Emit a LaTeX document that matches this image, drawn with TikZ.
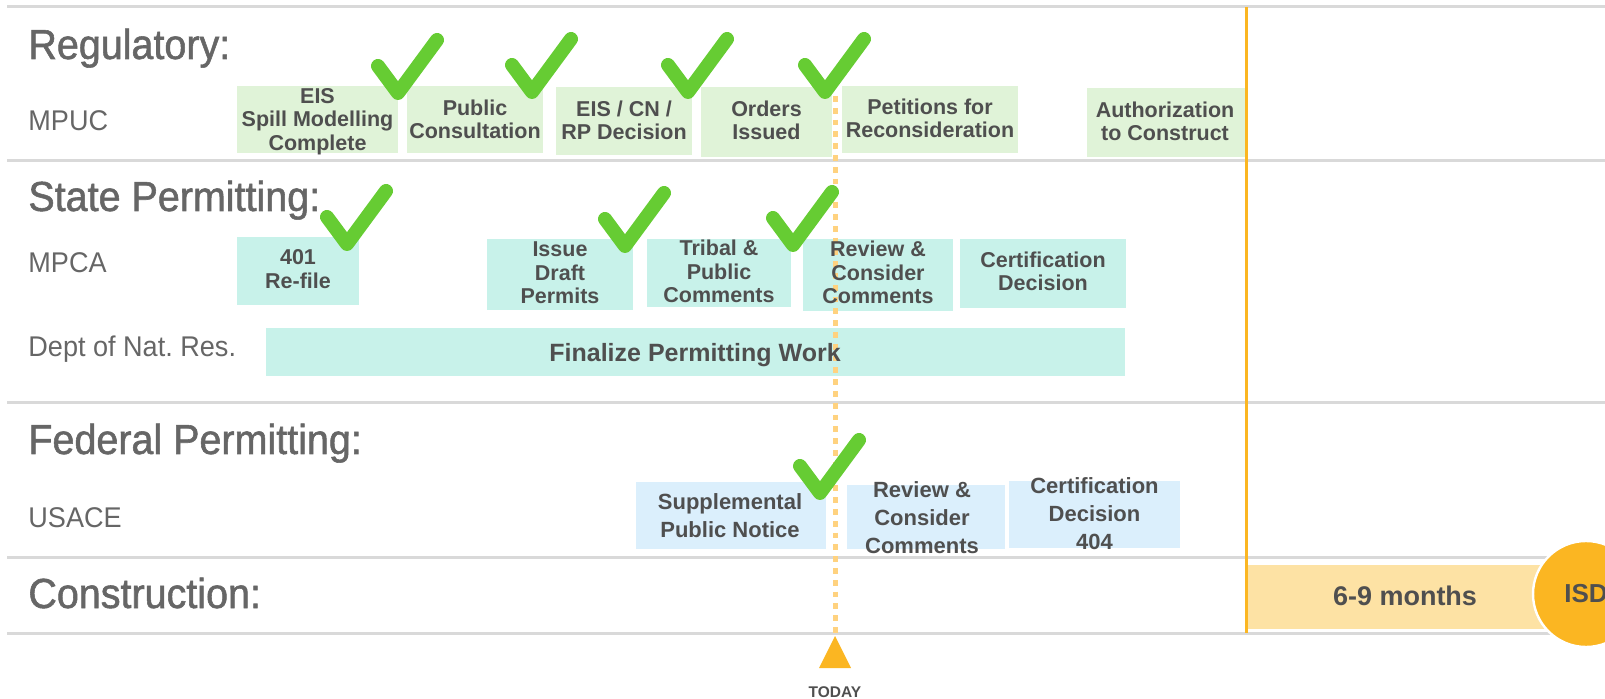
\documentclass[tikz,border=0pt]{standalone}
\usepackage{fontspec}
\setmainfont{Liberation Sans}
\newfontfamily\headfont[FakeBold=1.3,FakeStretch=0.94]{Liberation Sans}
\newfontfamily\labelfont[FakeStretch=0.95]{Liberation Sans}
\usetikzlibrary{fit}
\frenchspacing
\definecolor{rulegray}{HTML}{D9D9D9}
\definecolor{regfill}{HTML}{E0F3D8}
\definecolor{statefill}{HTML}{C8F2EA}
\definecolor{fedfill}{HTML}{DBEFFC}
\definecolor{consfill}{HTML}{FDE2A4}
\definecolor{gold}{HTML}{FBB622}
\definecolor{todaydot}{HTML}{FFD27F}
\definecolor{tickgreen}{HTML}{66CC33}
\definecolor{txt}{HTML}{4F4F4F}
\definecolor{lbl}{HTML}{666666}
\begin{document}
\begin{tikzpicture}[x=0.5pt,y=-0.5pt,
  rule/.style={draw=rulegray,line width=1.5pt},
  box/.style={inner sep=0pt,outer sep=0pt,draw=none},
  regbox/.style={box,fill=regfill},
  statebox/.style={box,fill=statefill},
  fedbox/.style={box,fill=fedfill},
  consbox/.style={box,fill=consfill},
  boxtext/.style={font=\fontsize{10.75pt}{11.75pt}\selectfont\bfseries, text=txt, align=center, inner sep=0pt, text depth=0pt},
  fedtext/.style={boxtext, font=\fontsize{11pt}{14pt}\selectfont\bfseries},
  header/.style={font=\headfont\fontsize{21pt}{24pt}\selectfont, text=lbl, anchor=base west, inner sep=0pt},
  rowlabel/.style={font=\labelfont\fontsize{14.25pt}{16pt}\selectfont, text=lbl, anchor=base west, inner sep=0pt},
  checkmark/.style={draw=tickgreen, line width=7pt, line cap=round, line join=round},
  todayline/.style={draw=todaydot, line width=2.5pt, dash pattern=on 2.9pt off 3pt},
  goldline/.style={draw=gold, line width=1.5pt},
  pics/tick/.style={code={\draw[checkmark] (-20,-27) -- (0,0) -- (39,-53);}}
]
\useasboundingbox (0,0) rectangle (1605,699);
\clip (0,0) rectangle (1605,699);

% horizontal rules
\foreach \yy in {7,161,403,557,633} {\draw[rule] (7,\yy) -- (1605,\yy);}

% regulatory boxes
\node[regbox, fit={(237,86) (398,153)}] (eis) {};
\node[regbox, fit={(407,86) (543,153)}] (pub) {};
\node[regbox, fit={(556,87) (692,155)}] (eiscn) {};
\node[regbox, fit={(701,87) (832,157)}] (ord) {};
\node[regbox, fit={(842,86) (1018,153)}] (pet) {};
\node[regbox, fit={(1087,88) (1245,157)}] (auth) {};

% state boxes
\node[statebox, fit={(237,237) (359,305)}] (refile) {};
\node[statebox, fit={(487,239) (633,310)}] (issue) {};
\node[statebox, fit={(647,239) (791,307)}] (tribal) {};
\node[statebox, fit={(803,239) (953,311)}] (review) {};
\node[statebox, fit={(960,239) (1126,308)}] (cert) {};
\node[statebox, fit={(266,328) (1125,376)}] (final) {};

% federal boxes
\node[fedbox, fit={(636,482) (826,549)}] (supp) {};
\node[fedbox, fit={(847,485) (1005,549)}] (freview) {};
\node[fedbox, fit={(1009,481) (1180,548)}] (fcert) {};

% construction bar
\node[consbox, fit={(1245,565) (1565,629)}] (cons) {};

% vertical gold line
\coordinate (gtop) at (1246,7);
\coordinate (gbot) at (1246,633);
\draw[goldline] (gtop) -- (gbot);

% today line
\coordinate (todaystart) at (835,96);
\coordinate (tri) at (835,636);
\draw[todayline] (todaystart) -- (tri);
\fill[gold] (tri) -- (851,668) -- (819,668) -- cycle;
\node[font=\fontsize{7.75pt}{9pt}\selectfont\bfseries, text=txt, anchor=base, inner sep=0pt] (today) at (835,697) {TODAY};

% headers and row labels
\node[header] (hreg) at (28,59) {Regulatory:};
\node[rowlabel] (lmpuc) at (28,131) {MPUC};
\node[header] (hstate) at (28,211) {State Permitting:};
\node[rowlabel] (lmpca) at (28,273) {MPCA};
\node[rowlabel] (ldnr) at (28,357) {Dept of Nat. Res.};
\node[header] (hfed) at (28,454) {Federal Permitting:};
\node[rowlabel] (lusace) at (28,528) {USACE};
\node[header] (hcons) at (28,608) {Construction:};

% box texts
\node[boxtext] (teis) at (317.5,119) {EIS\\Spill Modelling\\Complete};
\node[boxtext] (tpub) at (475,119) {Public\\Consultation};
\node[boxtext] (teiscn) at (624,120) {EIS / CN /\\RP Decision};
\node[boxtext] (tord) at (766.5,120) {Orders\\Issued};
\node[boxtext] (tpet) at (930,118) {Petitions for\\Reconsideration};
\node[boxtext] (tauth) at (1165,121) {Authorization\\to Construct};

\node[boxtext] (trefile) at (298,269) {401\\Re-file};
\node[boxtext] (tissue) at (560,273) {Issue\\Draft\\Permits};
\node[boxtext] (ttribal) at (719,271.5) {Tribal \&\\Public\\Comments};
\node[boxtext] (treview) at (878,272.5) {Review \&\\Consider\\Comments};
\node[boxtext] (tcert) at (1043,271) {Certification\\Decision};
\node[boxtext, font=\fontsize{12.5pt}{14pt}\selectfont\bfseries] (tfinal) at (695,352.5) {Finalize Permitting Work};

\node[fedtext] (tsupp) at (730,516) {Supplemental\\Public Notice};
\node[fedtext] (tfreview) at (922,518) {Review \&\\Consider\\Comments};
\node[fedtext] (tfcert) at (1094.5,514) {Certification\\Decision\\404};

\node[font=\fontsize{13.5pt}{16pt}\selectfont\bfseries, text=txt, inner sep=0pt, text depth=0pt] (tcons) at (1405,596) {6-9 months};

% ISD circle
\node[circle, fill=gold, draw=white, line width=1.2pt, minimum size=53pt, inner sep=0pt, font=\fontsize{13pt}{15pt}\selectfont\bfseries, text=txt] (isd) at (1586,594) {ISD};

% check marks
\pic at (398,93) {tick};
\pic at (532,92) {tick};
\pic at (688,92) {tick};
\pic at (825,92) {tick};
\pic at (347,244) {tick};
\pic at (625,246) {tick};
\pic at (793,245) {tick};
\pic at (820,493) {tick};
\end{tikzpicture}
\end{document}
